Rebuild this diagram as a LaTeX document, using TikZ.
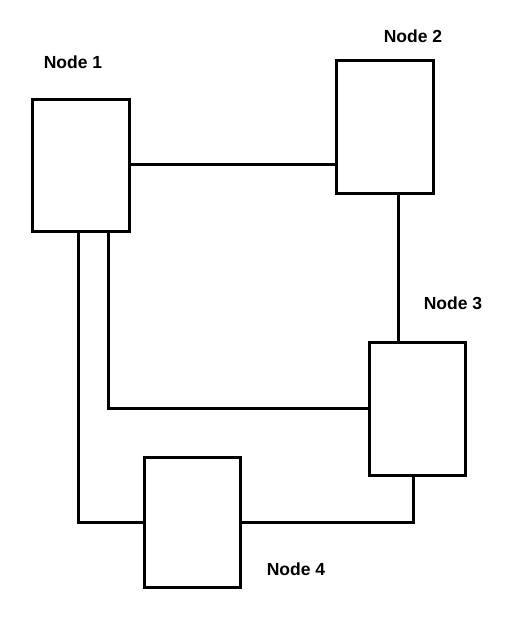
\documentclass[tikz,border=0pt]{standalone}
\usepackage{fontspec}
\setmainfont{Liberation Sans}
\begin{document}
\begin{tikzpicture}[x=1pt,y=-1pt,
  box/.style={draw=black,line width=3pt,fill=white,rectangle,inner sep=0pt},
  lbl/.style={font=\fontsize{17.5}{20}\selectfont\bfseries,inner sep=0pt},
  wire/.style={draw=black,line width=3pt}]
\useasboundingbox[fill=white] (0,0) rectangle (512,618);
\node[box,minimum width=97pt,minimum height=132pt] (n1) at (80.5,165) {};
\node[box,minimum width=97pt,minimum height=132pt] (n2) at (384.5,127) {};
\node[box,minimum width=96pt,minimum height=133pt] (n3) at (417,408.5) {};
\node[box,minimum width=96pt,minimum height=130pt] (n4) at (192,522) {};
\node[lbl] (l1) at (73,62) {Node 1};
\node[lbl] (l2) at (413,36) {Node 2};
\node[lbl] (l3) at (453,303) {Node 3};
\node[lbl] (l4) at (296,569) {Node 4};
\draw[wire] (n1.east |- 0,164) -- (n2.west |- 0,164);
\draw[wire] ([xshift=13.5pt]n2.south) -- ([xshift=13.5pt]n2.south |- n3.north);
\draw[wire] ([xshift=27.5pt]n1.south) |- (n3.west);
\draw[wire] ([xshift=-2.5pt]n1.south) |- (n4.west);
\draw[wire] (n4.east) -| ([xshift=-4pt]n3.south);
\end{tikzpicture}
\end{document}
